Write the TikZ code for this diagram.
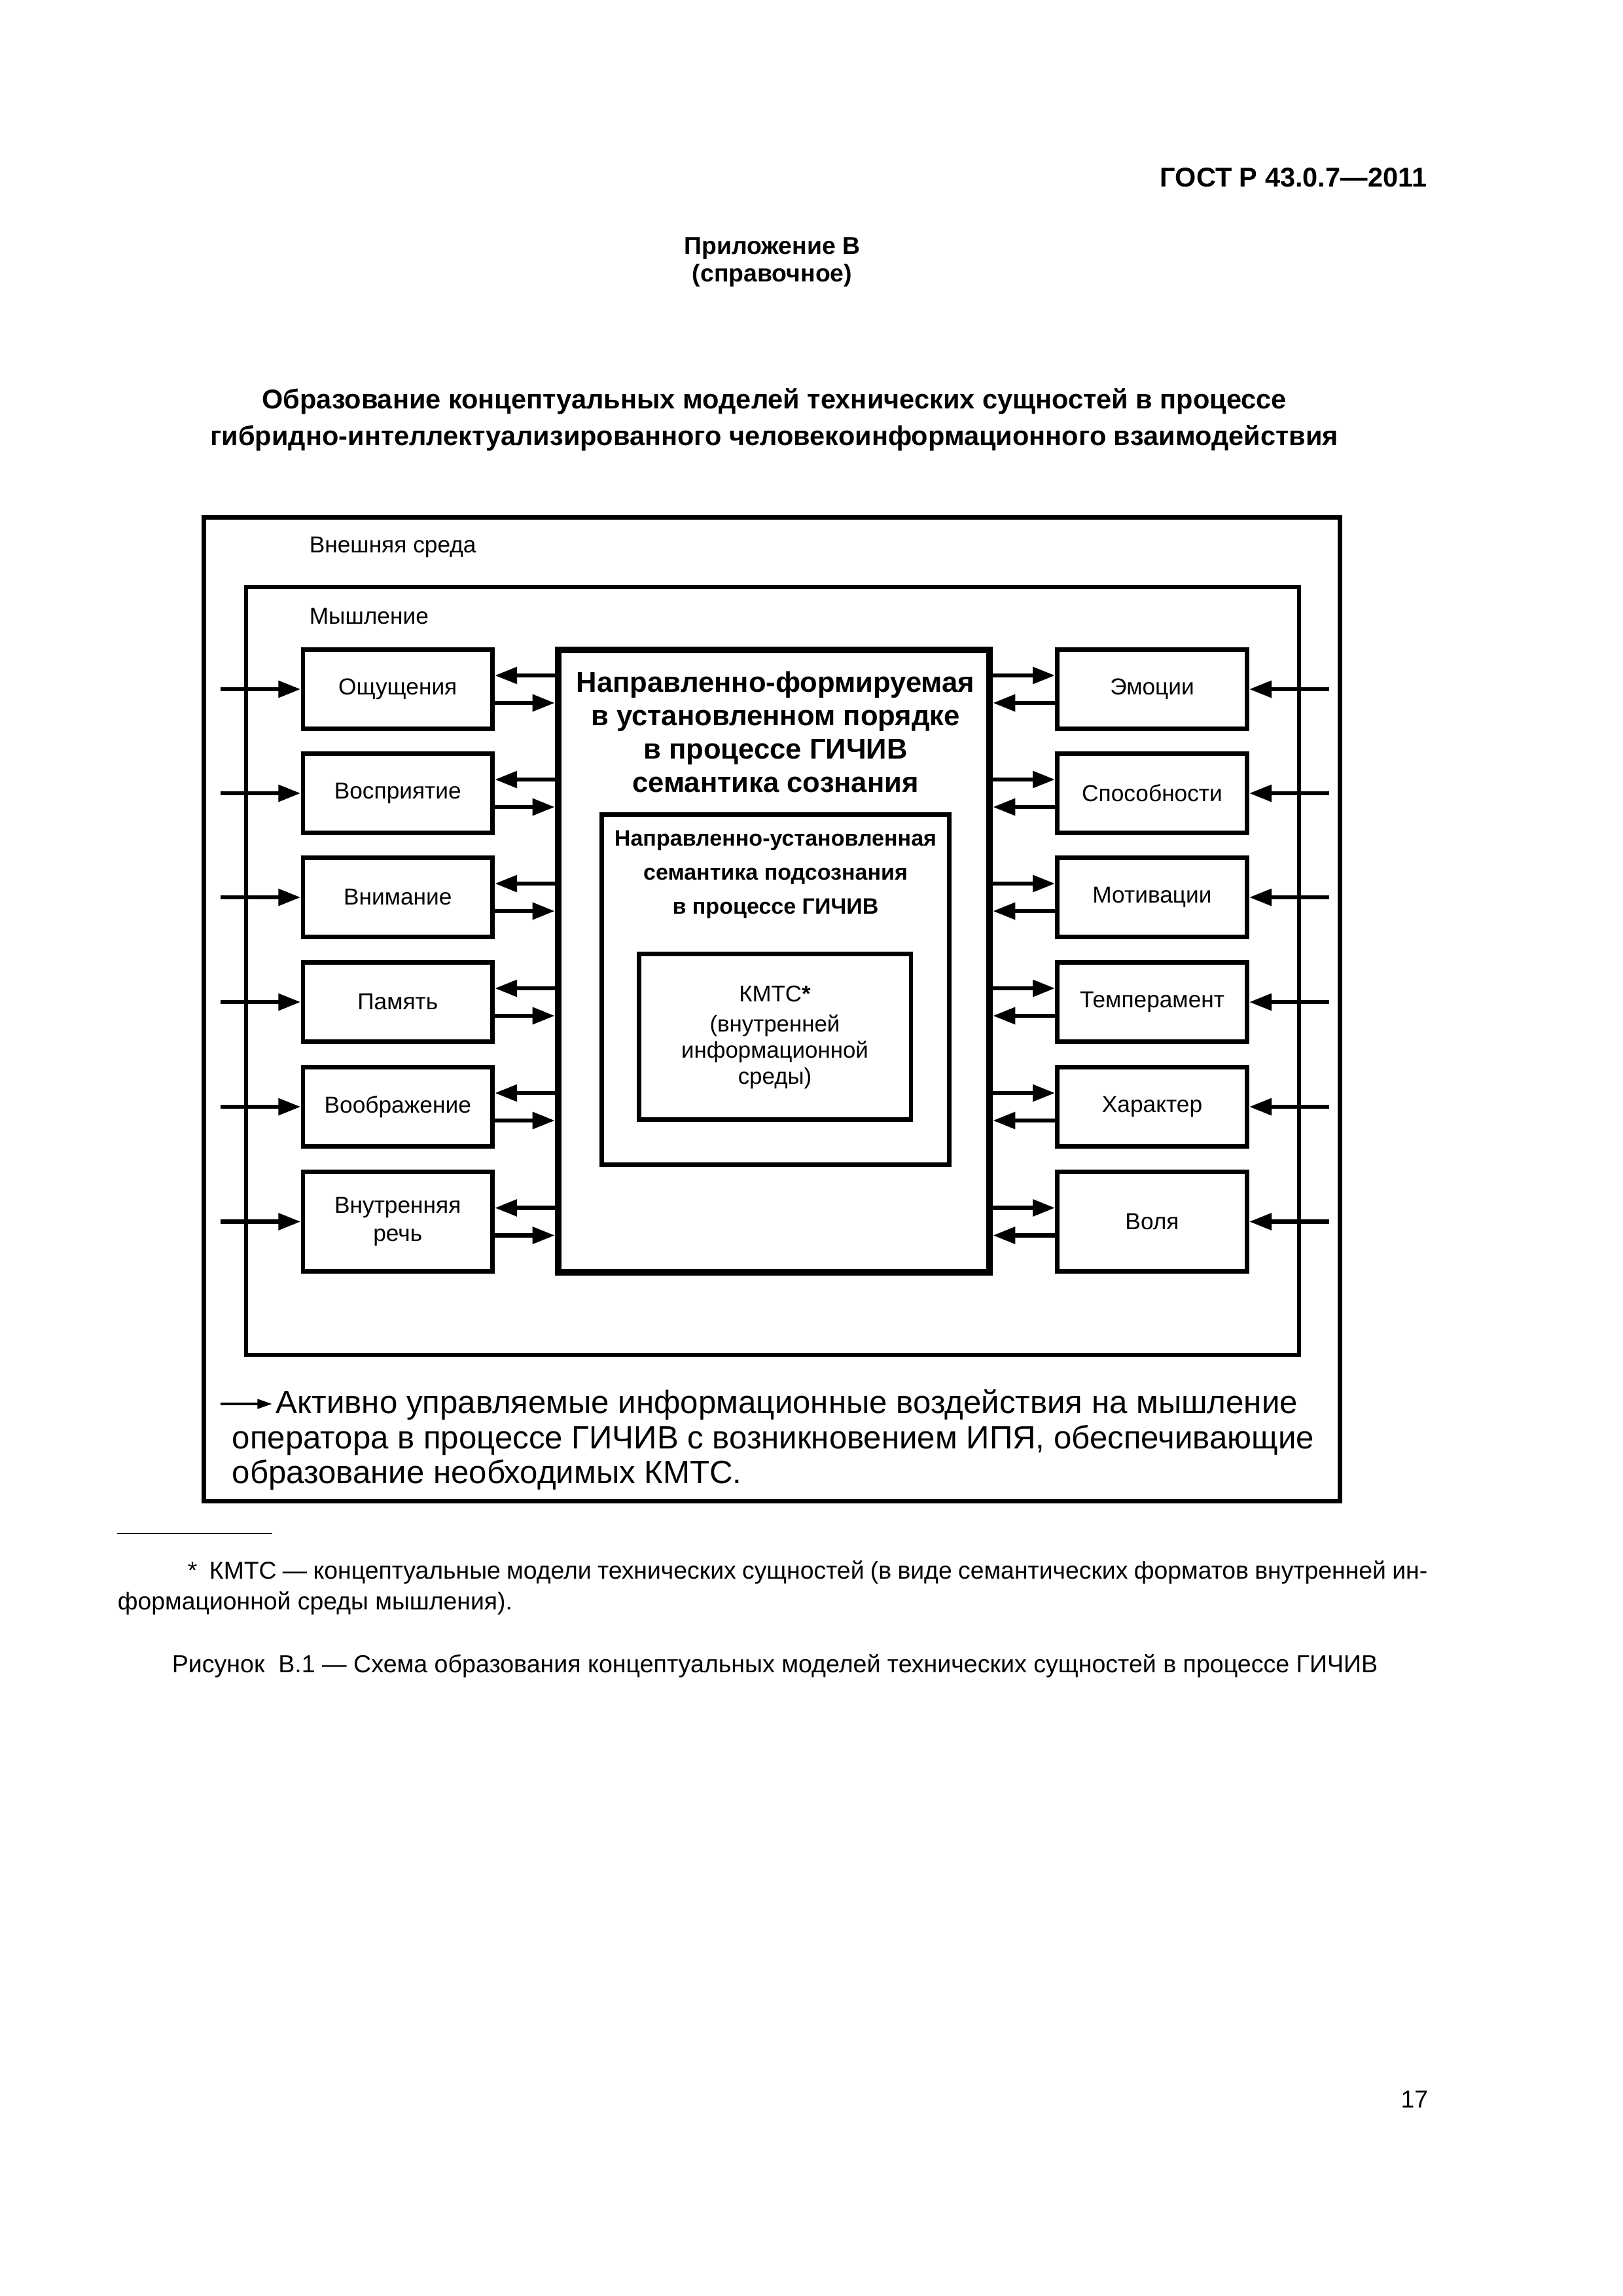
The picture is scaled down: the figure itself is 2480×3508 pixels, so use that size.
\documentclass[tikz,border=0pt]{standalone}
\usepackage{fontspec}
\setmainfont{Liberation Sans}
\usetikzlibrary{arrows.meta,calc}
\begin{document}
\begin{tikzpicture}[x=0.084677mm,y=-0.084677mm,
  lbl/.style={font=\fontsize{8.5}{10.2}\selectfont, align=center, inner sep=0pt},
  sbox/.style={draw, line width=0.59mm, minimum width=24.51mm, minimum height=10.25mm, lbl},
  tallbox/.style={sbox, minimum height=12.87mm},
  frm/.style={draw, line width=0.59mm, inner sep=0pt},
  arr/.style={line width=0.57mm, -{Triangle[length=2.9mm,width=2.1mm]}},
  legtxt/.style={font=\fontsize{11.85}{14.2}\selectfont, inner sep=0pt, anchor=base west},
  small/.style={font=\fontsize{9}{11}\selectfont, inner sep=0pt},
  hdr/.style={font=\bfseries\fontsize{10}{12}\selectfont, inner sep=0pt},
]
\useasboundingbox (0,0) rectangle (2480,3508);
\fill[white] (0,0) rectangle (2480,3508);

% header
\node[hdr, anchor=base east] (gost) at (2181,285) {ГОСТ Р 43.0.7—2011};
\node[font=\bfseries\fontsize{9}{11}\selectfont, inner sep=0pt, anchor=base] (app1) at (1180,388) {Приложение В};
\node[font=\bfseries\fontsize{9}{11}\selectfont, inner sep=0pt, anchor=base] (app2) at (1180,430) {(справочное)};
\node[hdr, anchor=base] (t1) at (1183,624) {Образование концептуальных моделей технических сущностей в процессе};
\node[hdr, anchor=base] (t2) at (1183,680) {гибридно-интеллектуализированного человекоинформационного взаимодействия};

% frames
\node[frm, minimum width=146.96mm, minimum height=127.18mm] (outer) at (1179.75,1542) {};
\node[frm, line width=0.51mm, minimum width=136.2mm, minimum height=99.33mm] (mind) at (1180.75,1483.5) {};
\node[lbl, anchor=west] (tOuter) at (472,836) {Внешняя среда};
\node[lbl, anchor=west] (tMind) at (472,942) {Мышление};

% central nested boxes
\node[draw, line width=0.85mm, minimum width=55.80mm, minimum height=80.53mm] (c) at (1182.5,1468.5) {};
\node[draw, line width=0.57mm, minimum width=44.96mm, minimum height=45.30mm] (sub) at (1185,1512) {};
\node[draw, line width=0.57mm, minimum width=35.18mm, minimum height=21.42mm] (kmts) at (1184.25,1584) {};
\node[font=\bfseries\fontsize{10.5}{12.3}\selectfont, align=center, inner sep=0pt] (ctext) at (1185,1118)
  {Направленно-формируемая\\в установленном порядке\\в процессе ГИЧИВ\\семантика сознания};
\node[font=\bfseries\fontsize{8.2}{12.5}\selectfont, align=center, inner sep=0pt] (stext) at (1185,1336)
  {Направленно-установленная\\семантика подсознания\\в процессе ГИЧИВ};
\node[font=\fontsize{8.4}{9.6}\selectfont, align=center, inner sep=0pt] (ktext) at (1184,1585)
  {КМТС{\bfseries*}\\[1.5pt](внутренней\\информационной\\среды)};

% side boxes
\node[sbox] (L1) at (607.75,1053) {Ощущения};
\node[sbox] (L2) at (607.75,1212) {Восприятие};
\node[sbox] (L3) at (607.75,1371) {Внимание};
\node[sbox] (L4) at (607.75,1531) {Память};
\node[sbox] (L5) at (607.75,1691) {Воображение};
\node[tallbox] (L6) at (607.75,1866.5) {Внутренняя\\речь};
\node[sbox] (R1) at (1760.5,1053) {Эмоции};
\node[sbox] (R2) at (1760.5,1212) {Способности};
\node[sbox] (R3) at (1760.5,1371) {Мотивации};
\node[sbox] (R4) at (1760.5,1531) {Темперамент};
\node[sbox] (R5) at (1760.5,1691) {Характер};
\node[tallbox] (R6) at (1760.5,1866.5) {Воля};

\coordinate (inL) at (337,0);
\coordinate (inR) at (2031,0);
\foreach \i in {1,...,6}{
  \draw[arr] (inL |- L\i.west) -- (L\i.west);
  \draw[arr] (inR |- R\i.east) -- (R\i.east);
  \draw[arr] ($(c.west |- L\i.east)+(0,-21)$) -- ($(L\i.east)+(0,-21)$);
  \draw[arr] ($(L\i.east)+(0,21)$) -- ($(c.west |- L\i.east)+(0,21)$);
  \draw[arr] ($(c.east |- R\i.west)+(0,-21)$) -- ($(R\i.west)+(0,-21)$);
  \draw[arr] ($(R\i.west)+(0,21)$) -- ($(c.east |- R\i.west)+(0,21)$);
}

% legend
\node[legtxt] (leg1) at (421,2159) {Активно управляемые информационные воздействия на мышление};
\node[legtxt] (leg2) at (354,2213) {оператора в процессе ГИЧИВ с возникновением ИПЯ, обеспечивающие};
\node[legtxt] (leg3) at (354,2266.5) {образование необходимых КМТС.};
\coordinate (legA) at (337,2145);
\draw[line width=0.38mm, -{Triangle[length=1.95mm,width=1.2mm]}, shorten >=0.4mm] (legA) -- (leg1.west |- legA);

% footnote
\coordinate (fr1) at (179,2343);
\coordinate (fr2) at (416,2343);
\draw[line width=0.17mm] (fr1) -- (fr2);
\node[small, anchor=base west] (fn1) at (286,2412)
  {\makebox[160.4mm][s]{*\ \ КМТС — концептуальные модели технических сущностей (в виде семантических форматов внутренней ин-}};
\node[small, anchor=base west] (fn2) at (179,2459) {формационной среды мышления).};
\node[font=\fontsize{9.05}{11}\selectfont, inner sep=0pt, anchor=base west] (cap) at (262,2555)
  {Рисунок\ \ В.1 — Схема образования концептуальных моделей технических сущностей в процессе ГИЧИВ};
\node[small, anchor=base east] (pg) at (2183,3220) {17};
\end{tikzpicture}
\end{document}
